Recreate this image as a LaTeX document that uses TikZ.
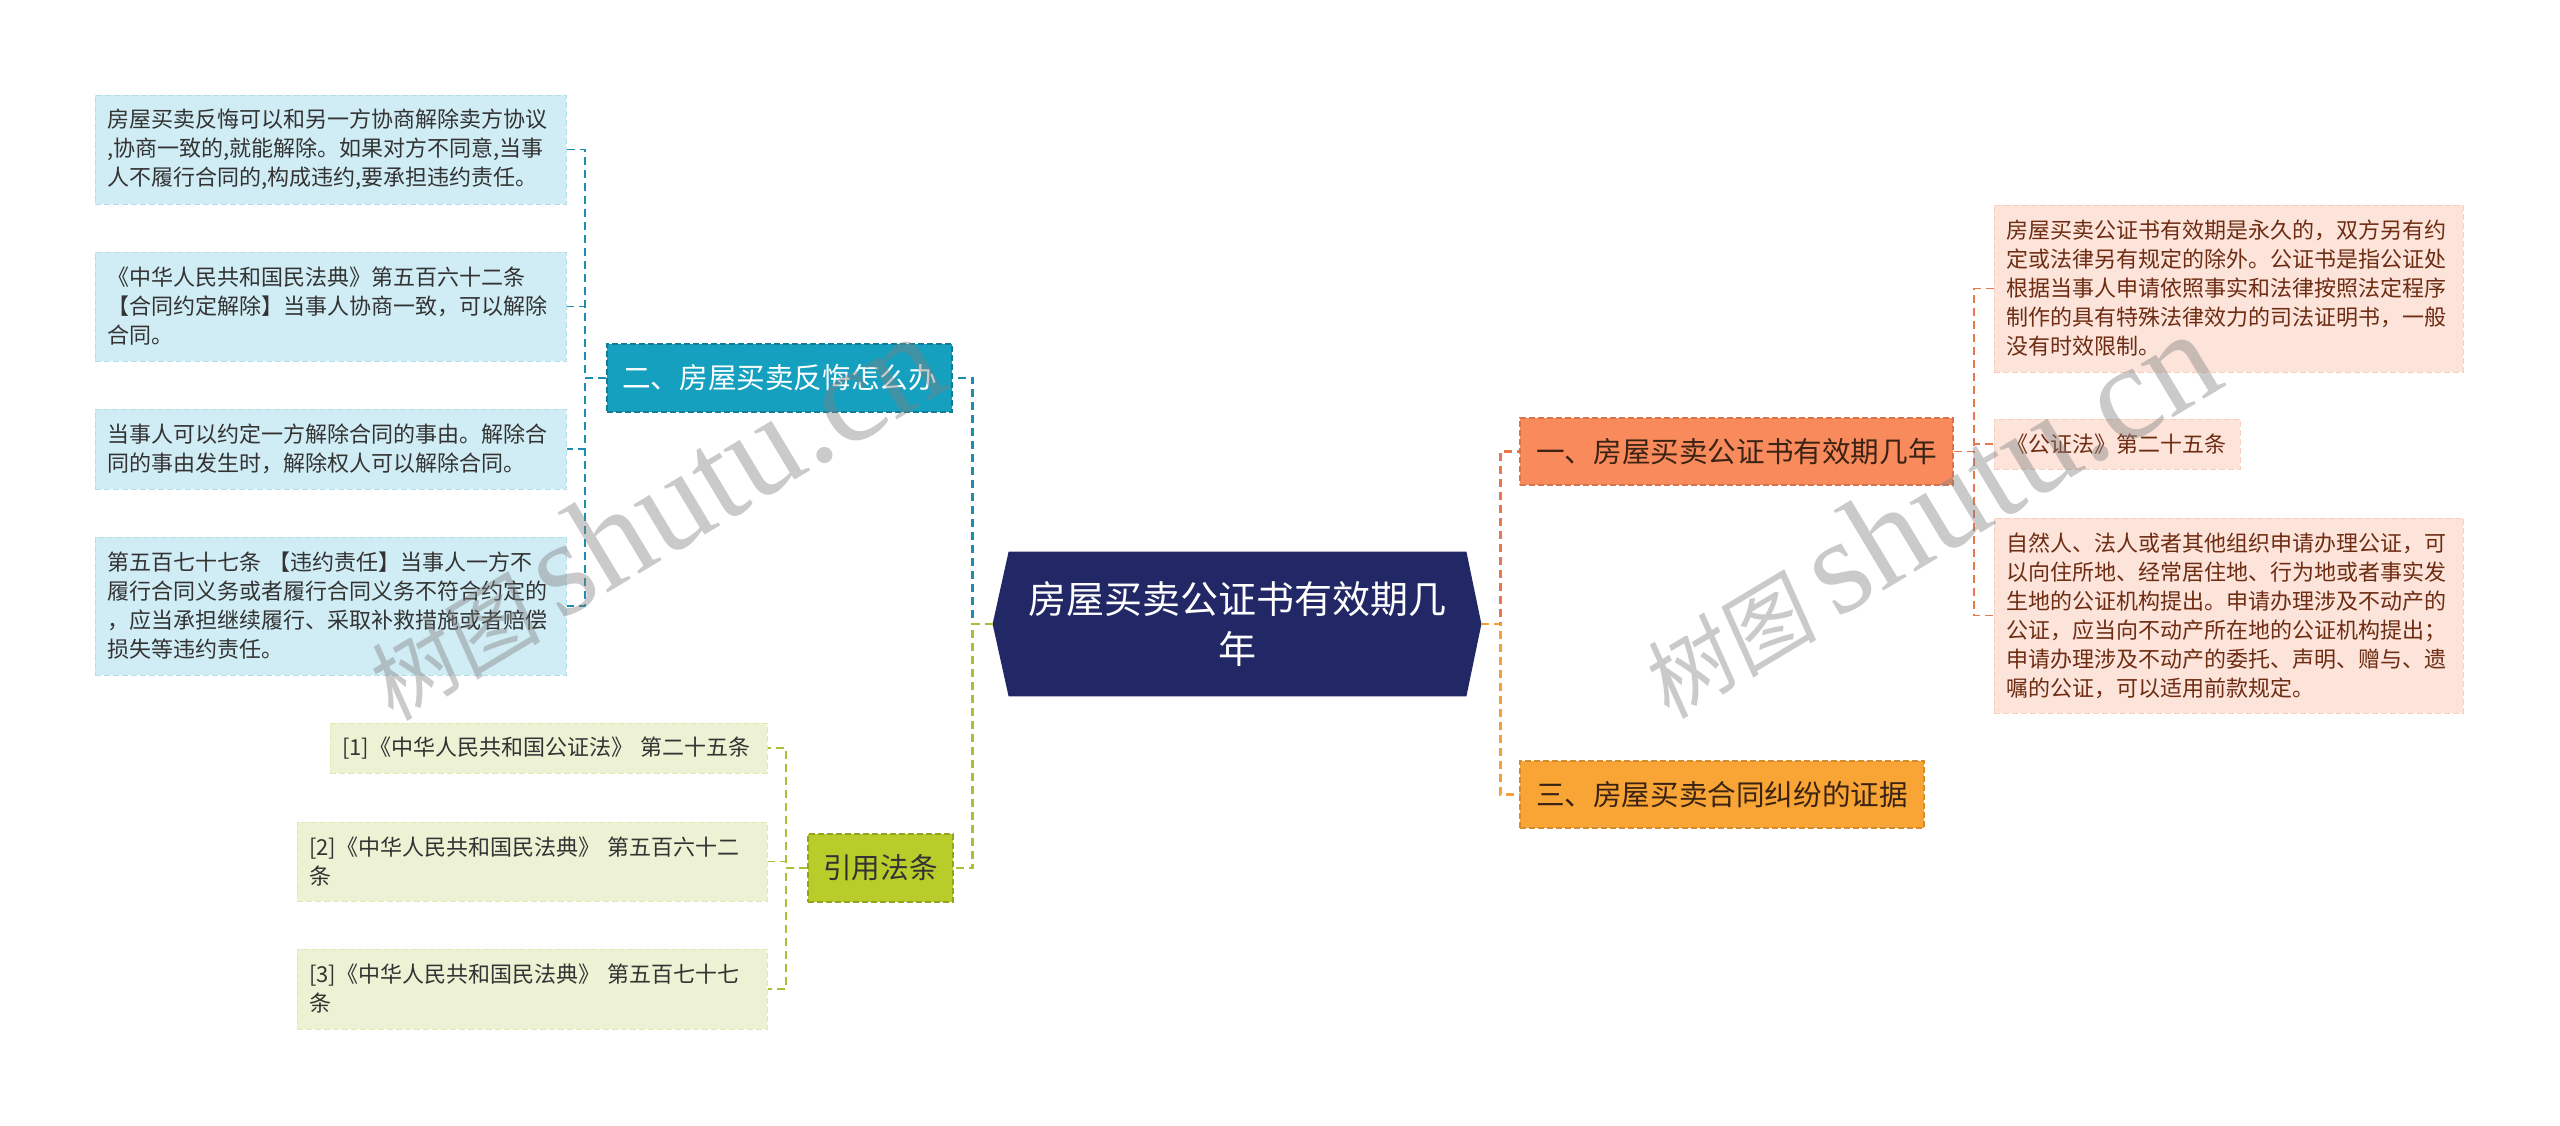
\documentclass[tikz,border=0pt]{standalone}
\usepackage{fontspec}
\setmainfont{Noto Sans CJK SC}
\newfontfamily\wmcjk[FakeSlant=0.12]{Noto Sans CJK SC}
\newfontfamily\wmlat{Liberation Serif}
\usetikzlibrary{backgrounds}
\definecolor{rootc}{HTML}{222766}
\definecolor{tealc}{HTML}{16A0C0}
\definecolor{teall}{HTML}{1B8DB0}
\definecolor{greenc}{HTML}{B8CC2A}
\definecolor{greenl}{HTML}{A9C034}
\definecolor{salc}{HTML}{F98A5C}
\definecolor{sall}{HTML}{E8774D}
\definecolor{orc}{HTML}{F9A535}
\definecolor{orl}{HTML}{F2A03A}
\definecolor{bluef}{HTML}{D0ECF4}
\definecolor{greenf}{HTML}{EEF2D4}
\definecolor{pinkf}{HTML}{FCE4DB}
\definecolor{darkt}{HTML}{333333}
\definecolor{brownt}{HTML}{6E2C12}
\definecolor{orgt}{HTML}{3B2314}
\begin{document}
\begin{tikzpicture}[x=0.5pt,y=-0.5pt,
  lvbox/.style={rectangle, align=center, inner sep=0pt, minimum height=34pt, font=\fontsize{14.3}{17}\selectfont, dash pattern=on 3pt off 1.5pt, line width=0.7pt},
  leaf/.style={rectangle, align=left, inner xsep=6pt, inner ysep=0pt, font=\fontsize{11}{14.5}\selectfont, dash pattern=on 3pt off 1.5pt, line width=0.5pt},
  bleaf/.style={leaf, fill=bluef, draw=bluef!85!teall, text=darkt},
  gleaf/.style={leaf, fill=greenf, draw=greenf!80!greenl, text=darkt},
  pleaf/.style={leaf, fill=pinkf, draw=pinkf!80!sall, text=brownt},
  link/.style={line width=1.2pt, dash pattern=on 4pt off 2.5pt},
  leaflink/.style={line width=0.9pt, dash pattern=on 4pt off 2.5pt},
  wm/.style={text=gray, text opacity=0.42, rotate=31, inner sep=0pt}
]
\useasboundingbox (0,0) rectangle (2560,1125);

% root
\node[text=white, align=center, font=\fontsize{19}{25}\selectfont, minimum width=228.5pt, minimum height=72pt, inner sep=0pt] (root) at (1237.5,624) {房屋买卖公证书有效期几\\年};
\begin{pgfonlayer}{background}
\fill[rootc] (root.north west) -- (root.north east) -- ([xshift=7.5pt]root.east) -- (root.south east) -- (root.south west) -- ([xshift=-8pt]root.west) -- cycle;
\end{pgfonlayer}
\coordinate (rootL) at ([xshift=-8pt]root.west);
\coordinate (rootR) at ([xshift=7.5pt]root.east);

% level one
\node[lvbox, fill=tealc, draw=tealc!78!black, text=white, minimum width=172.5pt] (er) at (779.5,378) {二、房屋买卖反悔怎么办};
\node[lvbox, fill=greenc, draw=greenc!80!black, text=darkt, minimum width=72.5pt] (yy) at (880.5,868) {引用法条};
\node[lvbox, fill=salc, draw=salc!85!black, text=orgt, minimum width=216.5pt, minimum height=33.5pt] (y1) at (1736.5,451.5) {一、房屋买卖公证书有效期几年};
\node[lvbox, fill=orc, draw=orc!85!black, text=orgt, minimum width=202pt, minimum height=33.5pt] (s3) at (1722,794.5) {三、房屋买卖合同纠纷的证据};

% blue leaves
\node[bleaf, text width=223.5pt, minimum height=54.5pt] (b1) at (330.5,149.5) {房屋买卖反悔可以和另一方协商解除卖方协议\\,协商一致的,就能解除。如果对方不同意,当事\\人不履行合同的,构成违约,要承担违约责任。};
\node[bleaf, text width=223.5pt, minimum height=54.5pt] (b2) at (330.5,306.5) {《中华人民共和国民法典》第五百六十二条\\【合同约定解除】当事人协商一致，可以解除\\合同。};
\node[bleaf, text width=223.5pt, minimum height=40pt] (b3) at (330.5,449) {当事人可以约定一方解除合同的事由。解除合\\同的事由发生时，解除权人可以解除合同。};
\node[bleaf, text width=223.5pt, minimum height=69pt] (b4) at (330.5,606) {第五百七十七条 【违约责任】当事人一方不\\履行合同义务或者履行合同义务不符合约定的\\，应当承担继续履行、采取补救措施或者赔偿\\损失等违约责任。};

% green leaves
\node[gleaf, text width=206.5pt, minimum height=25pt] (g1) at (548.5,748) {[1]《中华人民共和国公证法》 第二十五条};
\node[gleaf, text width=223pt, minimum height=39.5pt] (g2) at (532,861.5) {[2]《中华人民共和国民法典》 第五百六十二\\条};
\node[gleaf, text width=223pt, minimum height=40pt] (g3) at (532,989) {[3]《中华人民共和国民法典》 第五百七十七\\条};

% pink leaves
\node[pleaf, text width=222.5pt, minimum height=83.5pt] (p1) at (2228.5,288.5) {房屋买卖公证书有效期是永久的，双方另有约\\定或法律另有规定的除外。公证书是指公证处\\根据当事人申请依照事实和法律按照法定程序\\制作的具有特殊法律效力的司法证明书，一般\\没有时效限制。};
\node[pleaf, text width=111pt, minimum height=25pt] (p2) at (2117,444) {《公证法》第二十五条};
\node[pleaf, text width=222.5pt, minimum height=97.5pt] (p3) at (2228.5,615.5) {自然人、法人或者其他组织申请办理公证，可\\以向住所地、经常居住地、行为地或者事实发\\生地的公证机构提出。申请办理涉及不动产的\\公证，应当向不动产所在地的公证机构提出；\\申请办理涉及不动产的委托、声明、赠与、遗\\嘱的公证，可以适用前款规定。};

% connectors
\draw[link, teall] (rootL) -- ++(-20,0) |- (er.east);
\draw[link, greenl] (rootL) -- ++(-20,0) |- (yy.east);
\draw[link, sall] (rootR) -- ++(19,0) |- (y1.west);
\draw[link, orl] (rootR) -- ++(19,0) |- (s3.west);
\foreach \i in {1,2,3,4} {\draw[leaflink, teall] (er.west) -- ++(-21,0) |- (b\i.east);}
\foreach \i in {1,2,3} {\draw[leaflink, greenl] (yy.west) -- ++(-21,0) |- (g\i.east);}
\foreach \i in {1,2,3} {\draw[leaflink, sall] (y1.east) -- ++(20,0) |- (p\i.west);}

% watermarks
\node[wm] (wm1) at (650,517) {\wmcjk\fontsize{44}{44}\selectfont 树图\hspace{10pt}{\wmlat\fontsize{68}{68}\selectfont shutu.cn}};
\node[wm] (wm2) at (1926,515) {\wmcjk\fontsize{44}{44}\selectfont 树图\hspace{10pt}{\wmlat\fontsize{68}{68}\selectfont shutu.cn}};
\end{tikzpicture}
\end{document}
